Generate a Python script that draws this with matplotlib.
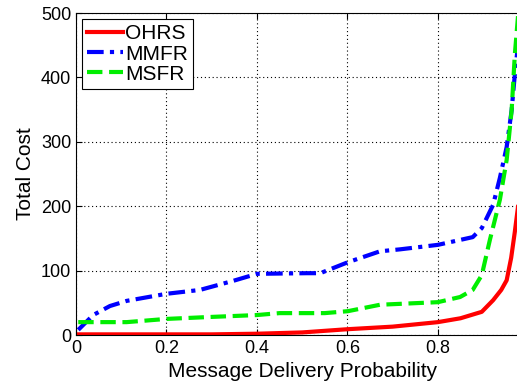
import matplotlib.pyplot as plt

plt.rcParams['font.family'] = ['Liberation Sans', 'DejaVu Sans']

# delivery probability vs. total cost for each routing scheme
p_ohrs = [0.0, 0.1, 0.2, 0.3, 0.4, 0.5, 0.6, 0.7, 0.8, 0.85, 0.897, 0.922, 0.94, 0.952, 0.962, 0.97, 0.98]
cost_ohrs = [1, 1, 1, 1, 2, 4, 9, 13, 20, 26, 36, 54, 70, 85, 120, 160, 215]

p_mmfr = [0.005, 0.038, 0.075, 0.112, 0.2, 0.274, 0.347, 0.4, 0.51, 0.54, 0.601, 0.672, 0.716, 0.8,
          0.877, 0.897, 0.922, 0.937, 0.952, 0.963, 0.97, 0.98]
cost_mmfr = [8, 31, 45, 53, 64, 70, 84, 95, 96, 96, 113, 130, 133, 140,
             152, 166, 202, 244, 292, 349, 404, 470]

p_msfr = [0.005, 0.112, 0.2, 0.296, 0.4, 0.45, 0.55, 0.601, 0.672, 0.8, 0.849, 0.877, 0.897,
          0.915, 0.937, 0.952, 0.963, 0.97, 0.98]
cost_msfr = [20, 20, 25, 28, 31, 34, 34, 37, 47, 51, 59, 70, 93,
             148, 210, 272, 349, 435, 520]

x_ticks = [0, 0.2, 0.4, 0.6, 0.8]
x_labels = ['0', '0.2', '0.4', '0.6', '0.8']
y_ticks = [0, 100, 200, 300, 400, 500]

fig = plt.figure(figsize=(5.17, 3.9), dpi=100)
ax = fig.add_axes([0.147, 0.141, 0.875, 0.8256])

ax.plot(p_ohrs, cost_ohrs, color='red', lw=3, ls='-', label='OHRS')
ax.plot(p_mmfr, cost_mmfr, color='blue', lw=3, ls=(0, (4, 1.5, 1, 1.5)), label='MMFR')
ax.plot(p_msfr, cost_msfr, color='#00ee00', lw=3, ls='--', label='MSFR')

ax.set_xlim(0, 1.0)
ax.set_ylim(0, 500)
ax.set_xticks(x_ticks)
ax.set_xticklabels(x_labels)
ax.set_yticks(y_ticks)
ax.tick_params(direction='in', labelsize=13, length=4, top=True, right=True)
ax.grid(True, color='black', ls=(0, (1, 2.5)), lw=0.8)

ax.set_xlabel('Message Delivery Probability', fontsize=15)
ax.set_ylabel('Total Cost', fontsize=15)

leg = ax.legend(loc='upper left', fontsize=15, fancybox=False, edgecolor='black',
                handlelength=1.7, handletextpad=0.1, borderpad=0.25, labelspacing=0.05,
                borderaxespad=0.3, framealpha=1)
leg.get_frame().set_linewidth(0.8)

fig.savefig('out.png', dpi=100)
